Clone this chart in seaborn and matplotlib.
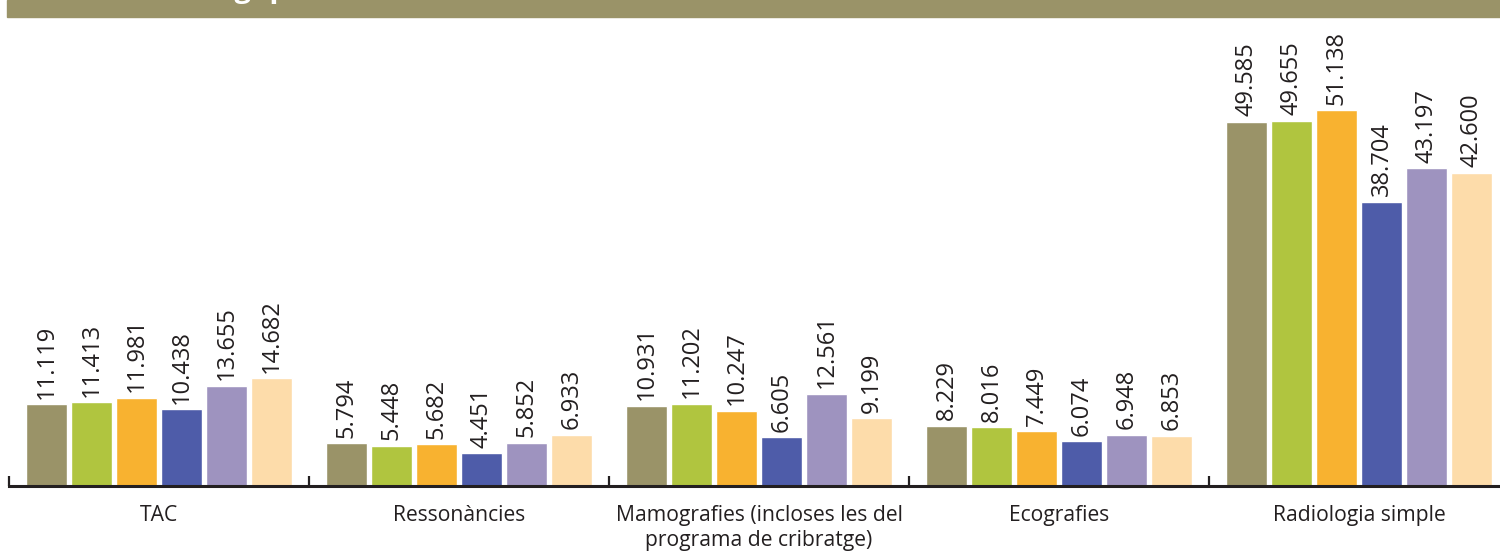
import matplotlib
matplotlib.use("Agg")
import matplotlib.pyplot as plt
import matplotlib.patches as mpatches
import seaborn as sns
import pandas as pd

# ---- data ----
categories = ["TAC", "Ressonàncies", "Mamografies (incloses les del\nprograma de cribratge)",
              "Ecografies", "Radiologia simple"]
series_names = ["Sèrie 1", "Sèrie 2", "Sèrie 3", "Sèrie 4", "Sèrie 5", "Sèrie 6"]
serie_1 = [11119, 5794, 10931, 8229, 49585]
serie_2 = [11413, 5448, 11202, 8016, 49655]
serie_3 = [11981, 5682, 10247, 7449, 51138]
serie_4 = [10438, 4451, 6605, 6074, 38704]
serie_5 = [13655, 5852, 12561, 6948, 43197]
serie_6 = [14682, 6933, 9199, 6853, 42600]
series_values = [serie_1, serie_2, serie_3, serie_4, serie_5, serie_6]
colors = ["#9a9368", "#b0c53f", "#f8b230", "#4e5ca9", "#9e93bf", "#fddcaa"]
title_text = "Proves radiològiques"

rows = []
for name, vals in zip(series_names, series_values):
    for cat, v in zip(categories, vals):
        rows.append({"categoria": cat, "serie": name, "valor": v})
df = pd.DataFrame(rows)

sns.set_style("white")
plt.rcParams["font.family"] = ["Open Sans", "DejaVu Sans"]
text_color = "#231f20"

W, H = 1500, 558
fig = plt.figure(figsize=(W / 100, H / 100), dpi=100)

# header band (title text mostly cut off at the top edge, as in the reference)
fig.patches.append(mpatches.Rectangle((7 / W, 1 - 16.5 / H), 1 - 7 / W, 16.5 / H,
                                      transform=fig.transFigure, color="#9a9368", zorder=0))
fig.text(28 / W, 1 + 3 / H, title_text, color="white", fontsize=21, fontweight="bold",
         va="baseline", ha="left")

ax = fig.add_axes([9 / W, (H - 486) / H, 1500 / W, 466 / H])
sns.barplot(data=df, x="categoria", y="valor", hue="serie", order=categories,
            hue_order=series_names, palette=colors, width=0.9, gap=0.09,
            saturation=1, legend=False, ax=ax)

for c in ax.containers:
    labels = [f"{int(round(v)):,}".replace(",", ".") for v in c.datavalues]
    ax.bar_label(c, labels=labels, rotation=90, padding=4, fontsize=17, color=text_color)

ax.set_xlim(-0.5, len(categories) - 0.5)
ax.set_ylim(0, 63400)
ax.set_xlabel("")
ax.set_ylabel("")
ax.set_yticks([])
for s in ["left", "top", "right"]:
    ax.spines[s].set_visible(False)
ax.spines["bottom"].set_linewidth(2.2)
ax.spines["bottom"].set_color(text_color)

ax.set_xticks(range(len(categories)))
ax.set_xticklabels(categories, fontsize=15.2, color=text_color, linespacing=1.2)
ax.tick_params(axis="x", which="major", bottom=True, length=0, pad=14)
ax.set_xticks([i - 0.5 for i in range(len(categories) + 1)], minor=True)
ax.tick_params(axis="x", which="minor", bottom=True, direction="in", length=7.5,
               width=1.6, color=text_color)

fig.savefig("out.png", dpi=100)
